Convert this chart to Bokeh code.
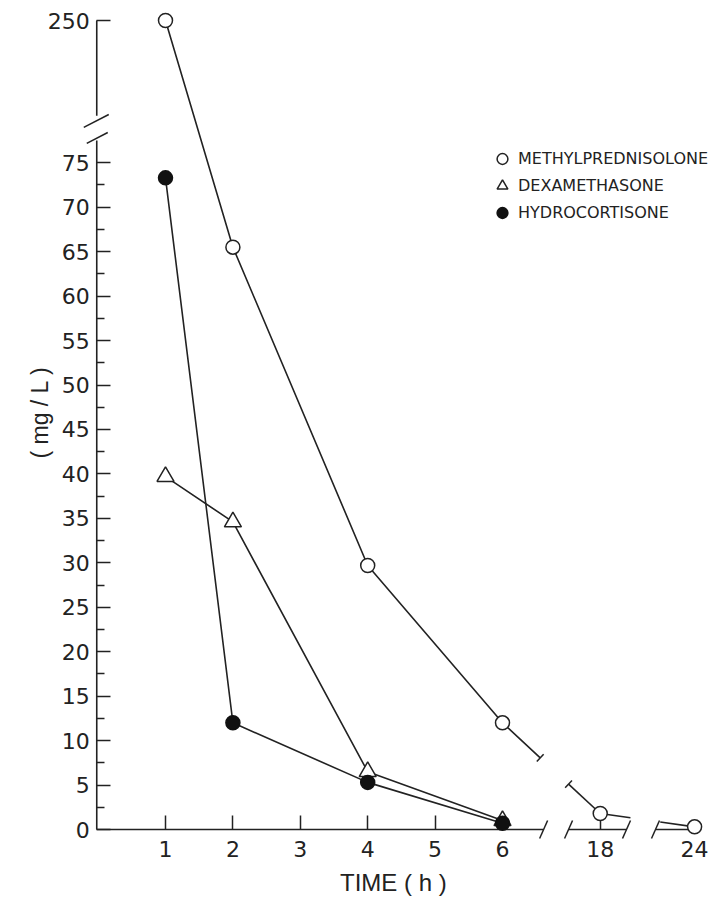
import numpy as np
from bokeh.plotting import figure
from bokeh.models import (LinearAxis, FixedTicker, Legend, LegendItem, Label, Range1d)
from bokeh.embed import file_html
from bokeh.resources import INLINE

# ---------------- data ----------------
methyl_hours = [1, 2, 4, 6, 18, 24]
methylprednisolone = [250, 65.5, 29.7, 12.0, 1.8, 0.3]
dexa_hours = [1, 2, 4, 6]
dexamethasone = [39.7, 34.6, 6.5, 1.0]
hydro_hours = [1, 2, 4, 6]
hydrocortisone = [73.3, 12.0, 5.3, 0.7]

x_tick_values = [1, 2, 3, 4, 5, 6, 18]
x_unticked_values = [24]
y_tick_values = [0, 5, 10, 15, 20, 25, 30, 35, 40, 45, 50, 55, 60, 65, 70, 75, 250]
y_minor_values = [2.5, 7.5, 12.5, 17.5, 22.5, 27.5, 32.5, 37.5, 42.5, 47.5,
                  52.5, 57.5, 62.5, 67.5, 72.5]

# ---------------- broken-axis transform ----------------
X_BREAK_POS = {18: 7.45, 24: 8.85}     # compressed position after the x break
Y_BREAK_POS = {250: 91.0}              # compressed position above the y break


def tx(h):
    return X_BREAK_POS.get(h, h)


def ty(v):
    return Y_BREAK_POS.get(v, v)


INK = "#222222"
W, H = 708, 896
PXX = 67.4   # px per x unit
PXY = 8.89   # px per y unit
X0 = 1 - 165 / PXX
X1 = X0 + W / PXX
Y1 = 829 / PXY
Y0 = Y1 - H / PXY

p = figure(width=W, height=H, x_range=Range1d(X0, X1), y_range=Range1d(Y0, Y1),
           x_axis_location=None, y_axis_location=None, min_border=0,
           toolbar_location=None, output_backend="svg", outline_line_color=None,
           background_fill_color="white", border_fill_color="white")
p.xgrid.visible = False
p.ygrid.visible = False

YAX_X = -0.02

# axes (ticks + labels) at fixed locations
xaxis = LinearAxis(fixed_location=0,
                   ticker=FixedTicker(ticks=[tx(h) for h in x_tick_values]),
                   major_label_overrides={tx(h): str(h) for h in x_tick_values})
xaxis2 = LinearAxis(fixed_location=0,
                    ticker=FixedTicker(ticks=[tx(h) for h in x_unticked_values]),
                    major_label_overrides={tx(h): str(h) for h in x_unticked_values})
yaxis = LinearAxis(fixed_location=YAX_X,
                   ticker=FixedTicker(ticks=[ty(v) for v in y_tick_values], minor_ticks=y_minor_values),
                   major_label_overrides={ty(v): str(v) for v in y_tick_values})
for ax in (xaxis, xaxis2, yaxis):
    ax.level = "underlay"
    ax.axis_line_color = None
    ax.major_tick_line_color = INK
    ax.major_tick_line_width = 1.5
    ax.minor_tick_line_color = INK
    ax.minor_tick_line_width = 1.5
    ax.major_tick_in = 14
    ax.major_tick_out = 0
    ax.minor_tick_in = 8
    ax.minor_tick_out = 0
    ax.major_label_text_font = "DejaVu Sans"
    ax.major_label_text_font_size = "22px"
    ax.major_label_text_color = INK
xaxis2.major_tick_line_color = None
xaxis.major_label_standoff = 11
xaxis2.major_label_standoff = 11
yaxis.major_label_standoff = 7
p.add_layout(xaxis, "below")
p.add_layout(xaxis2, "below")
p.add_layout(yaxis, "left")

# axis lines with breaks
ax_xs = [[YAX_X, 6.61], [6.98, 7.84], [8.27, tx(24)], [YAX_X, YAX_X], [YAX_X, YAX_X]]
ax_ys = [[0, 0], [0, 0], [0, 0], [0, 77.5], [80.3, ty(250)]]
p.multi_line(ax_xs, ax_ys, line_color=INK, line_width=1.6)

# break slashes
sdx, sdy = 4 / PXX, 9 / PXY
slash_x = [6.61, 6.98, 7.84, 8.27]
p.segment(x0=[s - sdx for s in slash_x], y0=[-sdy] * 4,
          x1=[s + sdx for s in slash_x], y1=[sdy] * 4, line_color=INK, line_width=1.5)
p.segment(x0=[YAX_X - 13 / PXX, YAX_X - 10 / PXX], y0=[78.97, 77.17],
          x1=[YAX_X + 12 / PXX, YAX_X + 11 / PXX], y1=[80.43, 78.4],
          line_color=INK, line_width=1.5)

# ---------------- series lines ----------------
mx = np.array([tx(h) for h in methyl_hours], dtype=float)
my = np.array([ty(v) for v in methylprednisolone], dtype=float)


def along(i, t):
    return mx[i] + t * (mx[i + 1] - mx[i]), my[i] + t * (my[i + 1] - my[i])


a1 = along(3, 0.386)
a2 = along(3, 0.676)
b1 = along(4, 0.32)
b2 = along(4, 0.636)
m_xs = [list(mx[:4]) + [a1[0]], [a2[0], mx[4]], [mx[4], b1[0]], [b2[0], mx[5]]]
m_ys = [list(my[:4]) + [a1[1]], [a2[1], my[4]], [my[4], b1[1]], [b2[1], my[5]]]
p.multi_line(m_xs, m_ys, line_color=INK, line_width=1.6)

# small end ticks where the methylprednisolone line is interrupted
dxp = (mx[4] - mx[3]) * PXX
dyp = (my[4] - my[3]) * PXY
L = np.hypot(dxp, dyp)
nx, ny = -dyp / L * 5 / PXX, dxp / L * 5 / PXY
p.segment(x0=[a1[0] - nx, a2[0] - nx], y0=[a1[1] - ny, a2[1] - ny],
          x1=[a1[0] + nx, a2[0] + nx], y1=[a1[1] + ny, a2[1] + ny],
          line_color=INK, line_width=1.5)

dx_ = [tx(h) for h in dexa_hours]
dy_ = [ty(v) for v in dexamethasone]
hx_ = [tx(h) for h in hydro_hours]
hy_ = [ty(v) for v in hydrocortisone]
p.line(dx_, dy_, line_color=INK, line_width=1.6)
p.line(hx_, hy_, line_color=INK, line_width=1.6)

# ---------------- markers ----------------
r_d = p.scatter(dx_, dy_, marker="triangle", size=17, fill_color="white",
                line_color=INK, line_width=1.5)
r_m = p.scatter(list(mx), list(my), marker="circle", size=14, fill_color="white",
                line_color=INK, line_width=1.5)
r_h = p.scatter(hx_, hy_, marker="circle", size=14, fill_color="#111111",
                line_color="#111111", line_width=1.5)

legend = Legend(items=[LegendItem(label="METHYLPREDNISOLONE", renderers=[r_m]),
                       LegendItem(label="DEXAMETHASONE", renderers=[r_d]),
                       LegendItem(label="HYDROCORTISONE", renderers=[r_h])],
                location=(486, 670), orientation="vertical",
                glyph_width=32, glyph_height=27, label_height=20, spacing=0,
                label_standoff=0, padding=0, margin=0,
                border_line_color=None, background_fill_alpha=0,
                label_text_font="DejaVu Sans", label_text_font_size="16px",
                label_text_color=INK)
p.add_layout(legend)

# axis titles
p.add_layout(Label(x=4.38, y=-5.96, text="TIME ( h )", text_align="center",
                   text_baseline="middle", text_font="Liberation Sans",
                   text_font_size="24px", text_color=INK))
p.add_layout(Label(x=-0.855, y=46.9, text="( mg / L )", angle=np.pi / 2,
                   text_align="center", text_baseline="middle",
                   text_font="Liberation Sans", text_font_size="23px", text_color=INK))

open("out.html", "w").write(file_html(p, INLINE))
